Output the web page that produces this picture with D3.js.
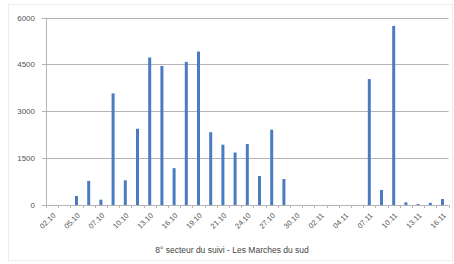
<!DOCTYPE html>
<html>
<head>
<meta charset="utf-8">
<script src="https://cdn.jsdelivr.net/npm/d3@7"></script>
<style>
  body { margin: 0; background: #fff; }
  text { font-family: "Liberation Sans", Arial, sans-serif; }
</style>
</head>
<body>
<svg width="454" height="264"></svg>
<script>
// dates of the survey (every other one is labelled on the axis)
var dates = ["02.10","03.10","05.10","06.10","07.10","09.10","10.10","12.10","13.10","15.10","16.10",
             "18.10","19.10","20.10","21.10","23.10","24.10","26.10","27.10","29.10","30.10",
             "01.11","02.11","03.11","04.11","06.11","07.11","09.11","10.11","12.11","13.11","15.11","16.11"];
var counts = [0, 0, 290, 770, 170, 3570, 790, 2440, 4720, 4450, 1180,
              4580, 4910, 2330, 1930, 1680, 1950, 930, 2410, 830, 0,
              0, 0, 0, 0, 0, 4030, 480, 5730, 85, 30, 70, 190];
var yTicks = [0, 1500, 3000, 4500, 6000];
var title = "8° secteur du suivi - Les Marches du sud";

var svg = d3.select("svg");
var plotLeft = 46, plotRight = 448.6, plotTop = 17.5, plotBottom = 205;

// faint frame round the chart
svg.append("rect")
    .attr("x", 8.5).attr("y", 4.5).attr("width", 444).attr("height", 256)
    .attr("fill", "none").attr("stroke", "#ececec");

var x = d3.scaleBand().domain(dates).range([plotLeft, plotRight]);
var y = d3.scaleLinear().domain([0, 6000]).range([plotBottom, plotTop]);

// gridlines + y labels
svg.selectAll(".grid")
  .data(yTicks.filter(d => d > 0))
  .enter().append("line")
    .attr("x1", plotLeft - 4).attr("x2", plotRight)
    .attr("y1", d => Math.round(y(d)) + 0.5).attr("y2", d => Math.round(y(d)) + 0.5)
    .attr("stroke", "#b4b4b4");

svg.selectAll(".ylab")
  .data(yTicks)
  .enter().append("text")
    .attr("x", 35).attr("y", d => y(d) + 3)
    .attr("text-anchor", "end")
    .attr("font-size", 8)
    .attr("fill", "#555")
    .text(d => d);

// y axis line
svg.append("line")
    .attr("x1", plotLeft + 0.5).attr("x2", plotLeft + 0.5)
    .attr("y1", plotTop).attr("y2", plotBottom)
    .attr("stroke", "#b4b4b4");

// bars
svg.selectAll(".bar")
  .data(dates)
  .enter().append("rect")
    .attr("x", (d, i) => x(d) + x.bandwidth() / 2 - 1.5)
    .attr("width", 3)
    .attr("y", (d, i) => y(counts[i]))
    .attr("height", (d, i) => plotBottom - y(counts[i]))
    .attr("fill", "#4a7cc2");

// x axis line and ticks
svg.append("line")
    .attr("x1", plotLeft - 4).attr("x2", plotRight)
    .attr("y1", plotBottom + 0.5).attr("y2", plotBottom + 0.5)
    .attr("stroke", "#b4b4b4");

svg.selectAll(".xtick")
  .data(dates.concat(["end"]))
  .enter().append("line")
    .attr("x1", (d, i) => Math.round(plotLeft + i * x.step()) + 0.5)
    .attr("x2", (d, i) => Math.round(plotLeft + i * x.step()) + 0.5)
    .attr("y1", plotBottom).attr("y2", plotBottom + 3)
    .attr("stroke", "#b4b4b4");

// x labels, every other date, rotated
svg.selectAll(".xlab")
  .data(dates.filter((d, i) => i % 2 === 0))
  .enter().append("text")
    .attr("transform", d => "translate(" + (x(d) + x.bandwidth() / 2 + 4) + "," + (plotBottom + 11) + ") rotate(-45)")
    .attr("text-anchor", "end")
    .attr("font-size", 7.5)
    .attr("fill", "#555")
    .text(d => d);

svg.append("text")
    .attr("x", 232).attr("y", 253)
    .attr("text-anchor", "middle")
    .attr("font-size", 8.5)
    .attr("fill", "#444")
    .text(title);
</script>
</body>
</html>
